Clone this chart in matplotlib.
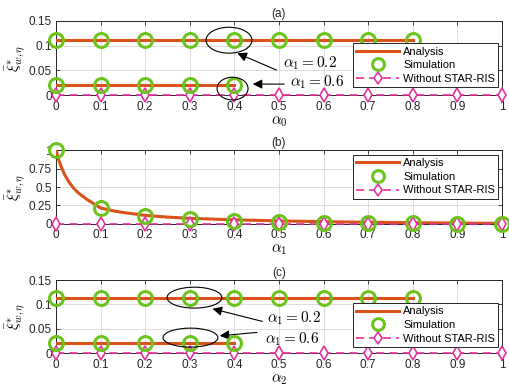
import matplotlib
matplotlib.use("Agg")
import matplotlib.pyplot as plt
from matplotlib.patches import Ellipse
import numpy as np

plt.rcParams['font.family'] = ['Liberation Sans', 'DejaVu Sans']
plt.rcParams['mathtext.fontset'] = 'cm'

# ---------------- data ----------------
x_ticks = [0, 0.1, 0.2, 0.3, 0.4, 0.5, 0.6, 0.7, 0.8, 0.9, 1.0]
x_tick_labels = ['0', '0.1', '0.2', '0.3', '0.4', '0.5', '0.6', '0.7', '0.8', '0.9', '1']

# panel (a): alpha0 sweep
a_x_hi = [0, 0.1, 0.2, 0.3, 0.4, 0.5, 0.6, 0.7, 0.8]
a_ana_hi = [0.112] * 9
a_sim_hi = [0.112] * 9
a_x_lo = [0, 0.1, 0.2, 0.3, 0.4]
a_ana_lo = [0.0195] * 5
a_sim_lo = [0.0195] * 5
a_x_wo = [0, 0.1, 0.2, 0.3, 0.4, 0.5, 0.6, 0.7, 0.8, 0.9, 1.0]
a_wo = [0] * 11

# panel (b): alpha1 sweep
b_x_ana = [0, 0.005, 0.01, 0.02, 0.03, 0.04, 0.05, 0.07, 0.1, 0.13, 0.15, 0.2, 0.25,
           0.3, 0.4, 0.5, 0.6, 0.7, 0.8, 0.9, 1.0]
b_ana = [1.0, 0.89, 0.80, 0.66, 0.56, 0.48, 0.42, 0.33, 0.215, 0.175, 0.155, 0.115, 0.092,
         0.075, 0.055, 0.040, 0.030, 0.022, 0.016, 0.011, 0.007]
b_x_sim = [0, 0.1, 0.2, 0.3, 0.4, 0.5, 0.6, 0.7, 0.8, 0.9, 1.0]
b_sim = [1.0, 0.215, 0.11, 0.07, 0.045, 0.025, 0.016, 0.011, 0.008, 0.005, 0.003]
b_wo = [0] * 11

# panel (c): alpha2 sweep
c_x_hi = [0, 0.1, 0.2, 0.3, 0.4, 0.5, 0.6, 0.7, 0.8]
c_ana_hi = [0.113] * 9
c_sim_hi = [0.113] * 9
c_x_lo = [0, 0.1, 0.2, 0.3, 0.4]
c_ana_lo = [0.02] * 5
c_sim_lo = [0.02] * 5
c_wo = [0] * 11

labels = ['Analysis', 'Simulation', 'Without STAR-RIS']
titles = ['(a)', '(b)', '(c)']
xlabels = [r'$\alpha_0$', r'$\alpha_1$', r'$\alpha_2$']
ylabel = r'$\bar{\xi}^{*}_{w,\eta}$'

# ---------------- style ----------------
C_ANA = '#D95319'
C_SIM = '#6BC31C'
C_WO = '#E0339E'

fig = plt.figure(figsize=(5.09, 3.88), dpi=100)
pos = [[0.110, 0.755, 0.876, 0.191],
       [0.110, 0.423, 0.876, 0.190],
       [0.110, 0.090, 0.876, 0.188]]
axes = [fig.add_axes(p) for p in pos]


def style(ax, yticks, yticklabels, ylim):
    ax.set_xlim(0, 1)
    ax.set_ylim(*ylim)
    ax.set_xticks(x_ticks)
    ax.set_xticklabels(x_tick_labels)
    ax.set_yticks(yticks)
    ax.set_yticklabels(yticklabels)
    ax.grid(True, color='#dcdcdc', linewidth=0.7)
    ax.set_axisbelow(True)
    ax.tick_params(direction='in', top=True, right=True, labelsize=8.5,
                   colors='#262626', length=3, width=0.6)
    ax.tick_params(axis='x', pad=4)
    ax.tick_params(axis='y', pad=3)
    for s in ax.spines.values():
        s.set_color('#262626')
        s.set_linewidth(0.7)


def wo_plot(ax, x, y, label=None):
    ax.plot(x, y, color=C_WO, linestyle=(0, (5, 3)), linewidth=1.2, marker='d',
            markersize=7, markerfacecolor='white', markeredgecolor=C_WO,
            markeredgewidth=1.2, label=label, zorder=4, clip_on=False)


def ana_plot(ax, x, y, label=None):
    ax.plot(x, y, color=C_ANA, linewidth=2.2, label=label, zorder=3)


def sim_plot(ax, x, y, label=None):
    ax.plot(x, y, linestyle='none', marker='o', markersize=10, markerfacecolor='none',
            markeredgecolor=C_SIM, markeredgewidth=2.2, label=label, zorder=5,
            clip_on=False)


# (a)
ax = axes[0]
ana_plot(ax, a_x_hi, a_ana_hi, labels[0])
ana_plot(ax, a_x_lo, a_ana_lo)
sim_plot(ax, a_x_hi, a_sim_hi, labels[1])
sim_plot(ax, a_x_lo, a_sim_lo)
wo_plot(ax, a_x_wo, a_wo, labels[2])
style(ax, [0, 0.05, 0.1, 0.15], ['0', '0.05', '0.1', '0.15'], (0, 0.15))
ax.add_patch(Ellipse((0.388, 0.111), 0.103, 0.0525, fill=False, color='black', lw=0.8, zorder=6))
ax.add_patch(Ellipse((0.396, 0.0131), 0.0695, 0.046, fill=False, color='black', lw=0.8, zorder=6,
                     clip_on=False))
ax.annotate('', xy=(0.401, 0.0868), xytext=(0.5, 0.0485),
            arrowprops=dict(arrowstyle='-|>', color='black', lw=0.8, mutation_scale=14))
ax.annotate('', xy=(0.435, 0.0222), xytext=(0.518, 0.0222),
            arrowprops=dict(arrowstyle='-|>', color='black', lw=0.8, mutation_scale=14))
ax.text(0.509, 0.0636, r'$\alpha_1 = 0.2$', fontsize=11, va='center', ha='left')
ax.text(0.525, 0.0252, r'$\alpha_1 = 0.6$', fontsize=11, va='center', ha='left')
leg_anchor = [(0.992, 0.70), (0.992, 0.935), (0.992, 0.685)]

# (b)
ax = axes[1]
ana_plot(ax, b_x_ana, b_ana, labels[0])
sim_plot(ax, b_x_sim, b_sim, labels[1])
wo_plot(ax, b_x_sim, b_wo, labels[2])
style(ax, [0, 0.25, 0.5, 0.75, 1], ['0', '0.25', '0.5', '0.75', '1'], (0, 1))

# (c)
ax = axes[2]
ana_plot(ax, c_x_hi, c_ana_hi, labels[0])
ana_plot(ax, c_x_lo, c_ana_lo)
sim_plot(ax, c_x_hi, c_sim_hi, labels[1])
sim_plot(ax, c_x_lo, c_sim_lo)
wo_plot(ax, a_x_wo, c_wo, labels[2])
style(ax, [0, 0.05, 0.1, 0.15], ['0', '0.05', '0.1', '0.15'], (0, 0.15))
ax.add_patch(Ellipse((0.3105, 0.114), 0.123, 0.043, fill=False, color='black', lw=0.8, zorder=6))
ax.add_patch(Ellipse((0.3016, 0.0318), 0.123, 0.039, fill=False, color='black', lw=0.8, zorder=6))
ax.annotate('', xy=(0.345, 0.0925), xytext=(0.469, 0.0637),
            arrowprops=dict(arrowstyle='-|>', color='black', lw=0.8, mutation_scale=14))
ax.annotate('', xy=(0.361, 0.035), xytext=(0.457, 0.043),
            arrowprops=dict(arrowstyle='-|>', color='black', lw=0.8, mutation_scale=14))
ax.text(0.473, 0.0709, r'$\alpha_1 = 0.2$', fontsize=11, va='center', ha='left')
ax.text(0.469, 0.0277, r'$\alpha_1 = 0.6$', fontsize=11, va='center', ha='left')

for i, ax in enumerate(axes):
    ax.set_title(titles[i], fontsize=8.5, pad=3, color='#262626')
    ax.set_xlabel(xlabels[i], fontsize=11, labelpad=1)
    ax.set_ylabel(ylabel, fontsize=11, labelpad=1)
    leg = ax.legend(loc='upper right', bbox_to_anchor=leg_anchor[i], fontsize=8,
                    frameon=True, fancybox=False, edgecolor='#262626', framealpha=1,
                    handlelength=3.8, handletextpad=0.4, labelspacing=0.32,
                    borderpad=0.3, borderaxespad=0, markerscale=0.85)
    leg.get_frame().set_linewidth(0.7)
    leg.set_zorder(10)

fig.savefig('out.png', dpi=100)
